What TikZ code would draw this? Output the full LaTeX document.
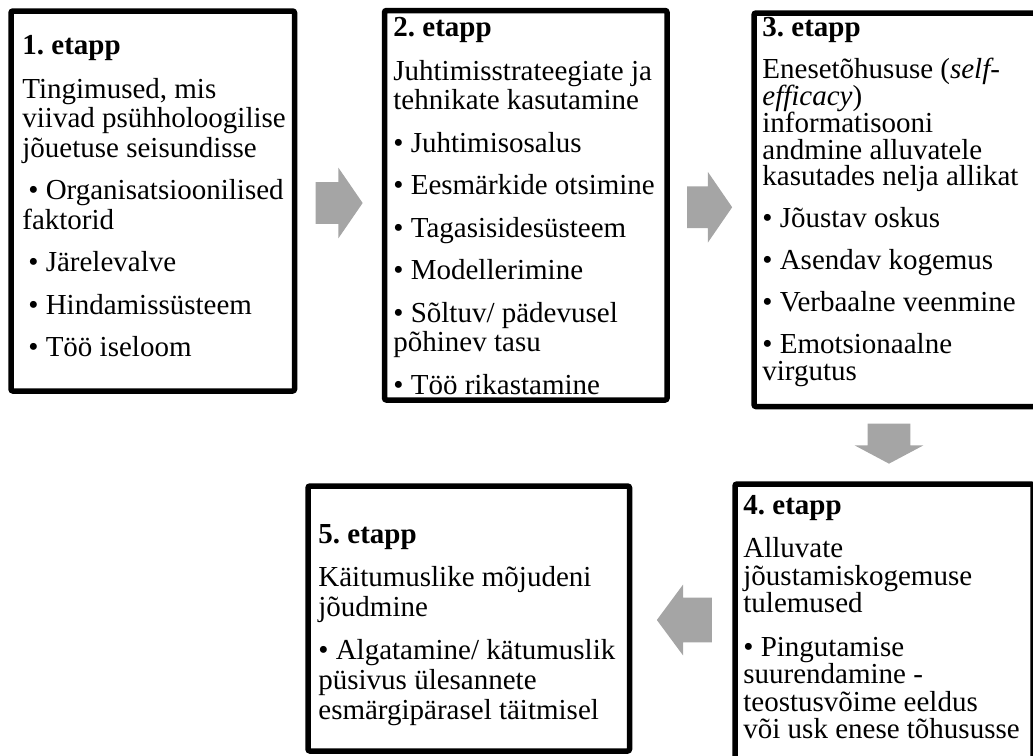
\documentclass[tikz,border=0pt]{standalone}
\usepackage{fontspec}
\setmainfont{Liberation Serif}
\usetikzlibrary{calc}
\usetikzlibrary{shapes.arrows}

\definecolor{arrowgray}{RGB}{165,165,165}

\tikzset{
  stagebox/.style={draw, line width=2.75pt, rounded corners=1pt, inner sep=0pt},
  stagetext/.style={anchor=north west, align=left, inner sep=0pt,
                    font=\fontsize{14.5}{#1}\selectfont\frenchspacing},
  stagetext/.default=14.75pt,
  blockarrow/.style={single arrow, fill=arrowgray, draw=none, inner sep=0pt,
                     single arrow head indent=0pt}
}

\begin{document}
\begin{tikzpicture}[x=0.5pt,y=-0.5pt]
  \useasboundingbox (0,0) rectangle (1033,755);
  \clip (0,0) rectangle (1033,755);

  \node[stagebox, minimum width=141.75pt, minimum height=190pt] (s1) at (152.75,201) {};
  \node[stagebox, minimum width=141.25pt, minimum height=194.75pt] (s2) at (525.75,205.25) {};
  \node[stagebox, minimum width=143pt, minimum height=196.75pt] (s3) at (897,209.75) {};
  \node[stagebox, minimum width=149pt, minimum height=143pt] (s4) at (884,627) {};
  \node[stagebox, minimum width=160.75pt, minimum height=132.5pt] (s5) at (468.75,618.5) {};

  \node[stagetext] (t1) at (22,35) {\textbf{1. etapp}\\[7pt]
    Tingimused, mis\\ viivad psühholoogilise\\ jõuetuse seisundisse\\[6.5pt]
    \hspace{3pt}• Organisatsioonilised\\ faktorid\\[6.5pt]
    \hspace{3pt}• Järelevalve\\[6.5pt]
    \hspace{3pt}• Hindamissüsteem\\[6.5pt]
    \hspace{3pt}• Töö iseloom};
  \node[stagetext] (t2) at (393,17) {\textbf{2. etapp}\\[7pt]
    Juhtimisstrateegiate ja\\ tehnikate kasutamine\\[6.5pt]
    • Juhtimisosalus\\[6.5pt]
    • Eesmärkide otsimine\\[6.5pt]
    • Tagasisidesüsteem\\[6.5pt]
    • Modellerimine\\[6.5pt]
    • Sõltuv/ pädevusel\\ põhinev tasu\\[6.5pt]
    • Töö rikastamine};
  \node[stagetext=13.4pt] (t3) at (762,17) {\textbf{3. etapp}\\[7.6pt]
    Enesetõhususe (\textit{self-}\\ \textit{efficacy})\\ informatisooni\\
    andmine alluvatele\\ kasutades nelja allikat\\[7.6pt]
    • Jõustav oskus\\[7.6pt]
    • Asendav kogemus\\[7.6pt]
    • Verbaalne veenmine\\[7.6pt]
    • Emotsionaalne\\ virgutus};
  \node[stagetext=13.75pt] (t4) at (743,495) {\textbf{4. etapp}\\[8pt]
    Alluvate\\ jõustamiskogemuse\\ tulemused\\[8pt]
    • Pingutamise\\ suurendamine -\\ teostusvõime eeldus\\ või usk enese tõhususse};
  \node[stagetext=15pt] (t5) at (318,524) {\textbf{5. etapp}\\[6.5pt]
    Käitumuslike mõjudeni\\ jõudmine\\[6.5pt]
    • Algatamine/ kätumuslik\\ püsivus ülesannete\\ esmärgipärasel täitmisel};

  \node[blockarrow, anchor=tail, minimum height=23.5pt, inner ysep=10.25pt,
        single arrow head extend=7.25pt, single arrow tip angle=111]
        (a1) at ($(s1.east)+(18,2)$) {};
  \node[blockarrow, anchor=tail, minimum height=22.5pt, inner ysep=10.25pt,
        single arrow head extend=7.25pt, single arrow tip angle=111]
        (a2) at ($(s2.east)+(17,2)$) {};
  \node[blockarrow, anchor=tail, minimum height=20pt, inner xsep=10.5pt,
        single arrow head extend=6.5pt, single arrow tip angle=124,
        shape border rotate=270]
        (a3) at ($(s3.south)+(-8,14)$) {};
  \node[blockarrow, anchor=tail, minimum height=27.5pt, inner ysep=11pt,
        single arrow head extend=6.5pt, single arrow tip angle=107,
        shape border rotate=180]
        (a4) at ($(s4.west)+(-20,-7)$) {};
\end{tikzpicture}
\end{document}
